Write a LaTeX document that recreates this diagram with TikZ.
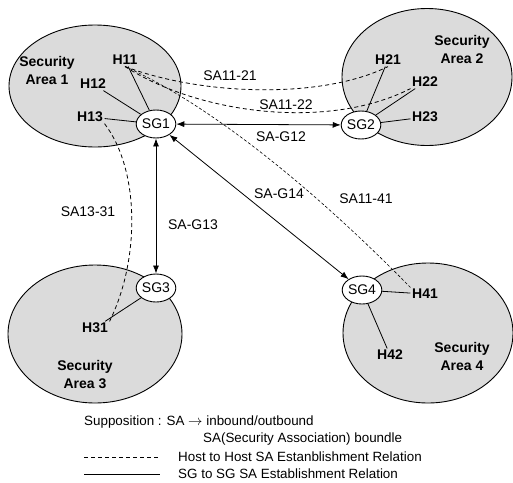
\documentclass[tikz,border=0pt]{standalone}
\usepackage{fontspec}
\setmainfont{Liberation Sans}
\usetikzlibrary{shapes.geometric,arrows.meta}

\definecolor{areafill}{gray}{0.86}
\newcommand{\figfont}{\fontsize{14}{18}\selectfont}
\newcommand{\legendfont}{\fontsize{13.4}{16}\selectfont}

\tikzset{
	area/.style={ellipse, draw, line width=0.9pt, fill=areafill},
	areaname/.style={font=\figfont\bfseries, align=center, inner sep=1pt},
	host/.style={font=\figfont\bfseries, inner sep=1.5pt},
	gw/.style={ellipse, draw, line width=0.9pt, fill=white, minimum width=38pt, minimum height=28pt, inner sep=0pt},
	link/.style={line width=0.8pt},
	hostsa/.style={line width=0.8pt, dash pattern=on 4pt off 3pt},
	sgsa/.style={line width=0.8pt, {Latex[length=8pt,width=6pt]}-{Latex[length=8pt,width=6pt]}},
	salabel/.style={inner sep=1pt},
	legend/.style={anchor=west, inner sep=0pt, font=\legendfont}
}

\begin{document}
\begin{tikzpicture}[x=1pt, y=-1pt, font=\figfont]
			\useasboundingbox (0,0) rectangle (513,482);
			% the four security areas
			\node[area, minimum width=172pt, minimum height=122pt](area1) at (95, 86){};
			\node[area, minimum width=170pt, minimum height=137pt](area2) at (427, 77){};
			\node[area, minimum width=174pt, minimum height=138pt](area3) at (95, 334){};
			\node[area, minimum width=170pt, minimum height=140pt](area4) at (428, 333){};
			\node[areaname](name1) at (47, 70){Security\\Area 1};
			\node[areaname](name2) at (462, 49){Security\\Area 2};
			\node[areaname](name3) at (85, 374){Security\\Area 3};
			\node[areaname](name4) at (462, 356){Security\\Area 4};
			% hosts
			\node[host](h11) at (125, 60){H11};
			\node[host](h12) at (93, 84){H12};
			\node[host](h13) at (90, 117){H13};
			\node[host](h21) at (388, 60){H21};
			\node[host](h22) at (425, 82){H22};
			\node[host](h23) at (425, 117){H23};
			\node[host](h31) at (95, 328){H31};
			\node[host](h41) at (425, 294){H41};
			\node[host](h42) at (390, 355){H42};
			% security gateways
			\node[gw](sg1) at (156, 124){SG1};
			\node[gw](sg2) at (361, 125){SG2};
			\node[gw](sg3) at (156, 288){SG3};
			\node[gw](sg4) at (362, 290){SG4};
			% hosts to their gateway
			\draw[link] (h11) -- (sg1);
			\draw[link] (h12) -- (sg1);
			\draw[link] (h13) -- (sg1);
			\draw[link] (h21) -- (sg2);
			\draw[link] (h22) -- (sg2);
			\draw[link] (h23) -- (sg2);
			\draw[link] (h31) -- (sg3);
			\draw[link] (h41) -- (sg4);
			\draw[link] (h42) -- (sg4);
			% SG to SG
			\draw[sgsa] (sg1) -- (sg2);
			\draw[sgsa] (sg1) -- (sg3);
			\draw[sgsa] (sg1) -- (sg4);
			% host to host
			\draw[hostsa] (h11.south) .. controls (200, 95) and (320, 100) .. (h21.south);
			\draw[hostsa] (h11.south) .. controls (200, 115) and (330, 130) .. (h22.south west);
			\draw[hostsa, dash pattern=on 3pt off 2pt, line width=0.6pt] (h11.south) .. controls (200, 100) and (300, 175) .. (h41.north west);
			\draw[hostsa] (h13.south east) .. controls (140, 170) and (140, 260) .. (h31.north east);
			% relation labels
			\node[salabel](l1121) at (230, 76){SA11-21};
			\node[salabel](l1122) at (286, 105){SA11-22};
			\node[salabel](lg12) at (281, 137){SA-G12};
			\node[salabel](lg14) at (279, 194){SA-G14};
			\node[salabel](l1141) at (366, 199){SA11-41};
			\node[salabel](l1331) at (88, 212){SA13-31};
			\node[salabel](lg13) at (193, 225){SA-G13};
			% legend
			\node[legend](supp) at (84, 422){Supposition : SA $\rightarrow$ inbound/outbound};
			\node[legend](bundle) at (203, 439){SA(Security Association) boundle};
			\coordinate (dashA) at (84, 457);
			\coordinate (dashB) at (160, 457);
			\draw[hostsa] (dashA) -- (dashB);
			\node[legend](hostrel) at (178, 457){Host to Host SA Estanblishment Relation};
			\coordinate (solidA) at (84, 474);
			\coordinate (solidB) at (160, 474);
			\draw[link] (solidA) -- (solidB);
			\node[legend](sgrel) at (178, 474){SG to SG SA Establishment Relation};
		\end{tikzpicture}
\end{document}
